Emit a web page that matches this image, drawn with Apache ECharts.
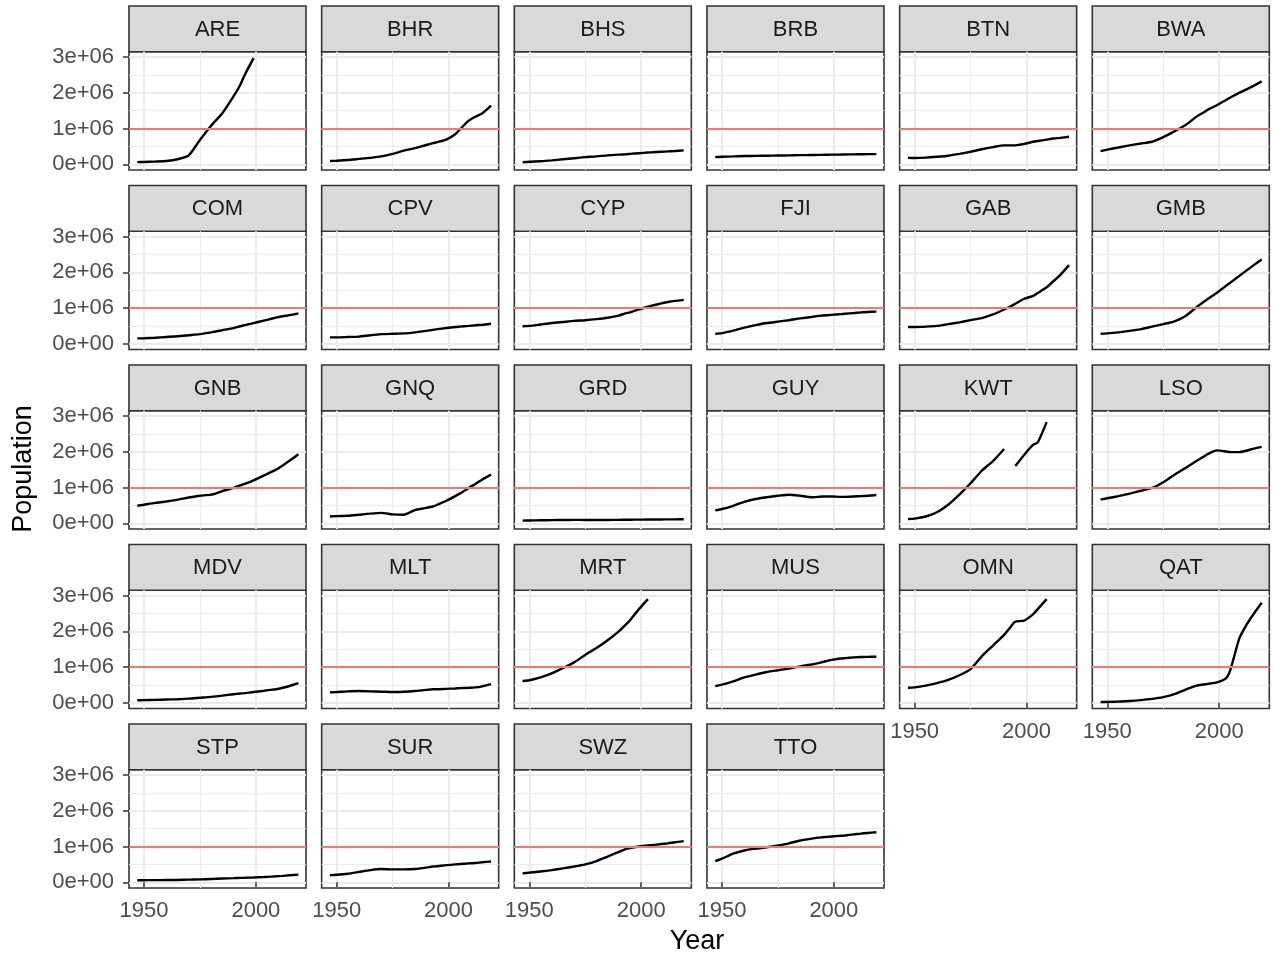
<!DOCTYPE html>
<html>
<head>
<meta charset="utf-8">
<title>Population by country</title>
<script src="https://cdn.jsdelivr.net/npm/echarts@6/dist/echarts.min.js"></script>
<style>
  html, body { margin: 0; padding: 0; background: #fff; }
  #chart { width: 1273px; height: 959px; }
</style>
</head>
<body>
<div id="chart"></div>
<script>
// population in millions
const years = [1947, 1950, 1955, 1960, 1965, 1970, 1975, 1980, 1985, 1990, 1993, 1995, 1999, 2003, 2005, 2009, 2012, 2015, 2019]

const ARE = [0.06, 0.065, 0.075, 0.09, 0.14, 0.25, 0.68, 1.08, 1.43, 1.9, 2.22, 2.5, 2.97, null, null, null, null, null, null]
const BHR = [0.09, 0.1, 0.12, 0.15, 0.18, 0.22, 0.29, 0.38, 0.45, 0.54, 0.59, 0.62, 0.69, 0.84, 0.97, 1.22, 1.33, 1.42, 1.64]
const BHS = [0.055, 0.07, 0.085, 0.11, 0.14, 0.17, 0.2, 0.22, 0.25, 0.27, 0.28, 0.29, 0.31, 0.33, 0.335, 0.35, 0.36, 0.37, 0.39]
const BRB = [0.2, 0.21, 0.22, 0.23, 0.235, 0.24, 0.245, 0.25, 0.255, 0.26, 0.263, 0.265, 0.27, 0.273, 0.275, 0.278, 0.28, 0.283, 0.285]
const BTN = [0.18, 0.175, 0.185, 0.21, 0.24, 0.29, 0.35, 0.42, 0.48, 0.53, 0.53, 0.53, 0.57, 0.63, 0.65, 0.69, 0.72, 0.74, 0.77]
const BWA = [0.37, 0.41, 0.47, 0.53, 0.58, 0.63, 0.76, 0.92, 1.1, 1.34, 1.45, 1.53, 1.65, 1.8, 1.87, 2.0, 2.09, 2.18, 2.32]
const COM = [0.15, 0.155, 0.17, 0.19, 0.21, 0.24, 0.27, 0.32, 0.38, 0.44, 0.49, 0.52, 0.58, 0.64, 0.67, 0.73, 0.77, 0.8, 0.85]
const CPV = [0.18, 0.18, 0.19, 0.2, 0.24, 0.27, 0.28, 0.29, 0.32, 0.36, 0.39, 0.41, 0.44, 0.47, 0.48, 0.5, 0.52, 0.53, 0.56]
const CYP = [0.49, 0.5, 0.54, 0.58, 0.61, 0.64, 0.66, 0.69, 0.73, 0.79, 0.85, 0.88, 0.96, 1.04, 1.07, 1.13, 1.17, 1.2, 1.23]
const FJI = [0.28, 0.3, 0.37, 0.45, 0.52, 0.58, 0.62, 0.66, 0.71, 0.75, 0.78, 0.79, 0.81, 0.83, 0.84, 0.86, 0.88, 0.89, 0.9]
const GAB = [0.47, 0.47, 0.48, 0.5, 0.55, 0.6, 0.66, 0.72, 0.82, 0.96, 1.05, 1.12, 1.26, 1.34, 1.42, 1.58, 1.75, 1.92, 2.2]
const GMB = [0.28, 0.29, 0.32, 0.36, 0.41, 0.48, 0.55, 0.63, 0.78, 1.03, 1.17, 1.26, 1.43, 1.62, 1.71, 1.9, 2.04, 2.18, 2.36]
const GNB = [0.49, 0.52, 0.57, 0.61, 0.66, 0.72, 0.77, 0.8, 0.9, 0.99, 1.06, 1.1, 1.2, 1.32, 1.38, 1.5, 1.62, 1.75, 1.93]
const GNQ = [0.19, 0.2, 0.21, 0.24, 0.27, 0.29, 0.25, 0.24, 0.37, 0.43, 0.47, 0.52, 0.63, 0.76, 0.83, 0.99, 1.1, 1.22, 1.36]
const GRD = [0.075, 0.077, 0.083, 0.088, 0.092, 0.095, 0.093, 0.09, 0.093, 0.096, 0.099, 0.1, 0.102, 0.104, 0.105, 0.107, 0.109, 0.11, 0.112]
const GUY = [0.36, 0.4, 0.49, 0.6, 0.68, 0.73, 0.77, 0.8, 0.77, 0.73, 0.74, 0.75, 0.75, 0.74, 0.74, 0.75, 0.76, 0.77, 0.79]
const KWT = [0.12, 0.13, 0.19, 0.31, 0.52, 0.8, 1.12, 1.47, 1.74, 2.08, null, 1.6, 1.92, 2.2, 2.26, 2.83, null, null, null]
const LSO = [0.66, 0.7, 0.76, 0.83, 0.91, 0.99, 1.15, 1.36, 1.55, 1.75, 1.86, 1.94, 2.04, 2.01, 1.99, 1.99, 2.03, 2.08, 2.14]
const MDV = [0.07, 0.074, 0.08, 0.09, 0.1, 0.115, 0.14, 0.165, 0.2, 0.24, 0.26, 0.27, 0.3, 0.33, 0.35, 0.38, 0.42, 0.47, 0.55]
const MLT = [0.29, 0.3, 0.32, 0.33, 0.32, 0.31, 0.3, 0.31, 0.33, 0.36, 0.38, 0.38, 0.39, 0.4, 0.41, 0.42, 0.43, 0.46, 0.52]
const MRT = [0.61, 0.63, 0.71, 0.82, 0.97, 1.13, 1.34, 1.53, 1.75, 2.0, 2.18, 2.31, 2.62, 2.9, null, null, null, null, null]
const MUS = [0.47, 0.51, 0.6, 0.71, 0.79, 0.86, 0.91, 0.96, 1.02, 1.07, 1.11, 1.14, 1.2, 1.24, 1.25, 1.27, 1.28, 1.285, 1.29]
const OMN = [0.42, 0.43, 0.48, 0.55, 0.64, 0.77, 0.94, 1.3, 1.6, 1.9, 2.13, 2.27, 2.3, 2.48, 2.62, 2.9, null, null, null]
const QAT = [0.02, 0.025, 0.035, 0.05, 0.075, 0.11, 0.16, 0.24, 0.37, 0.48, 0.51, 0.53, 0.57, 0.68, 0.92, 1.8, 2.16, 2.45, 2.8]
const STP = [0.055, 0.058, 0.06, 0.063, 0.065, 0.073, 0.08, 0.093, 0.105, 0.115, 0.122, 0.126, 0.135, 0.145, 0.152, 0.167, 0.18, 0.195, 0.215]
const SUR = [0.2, 0.21, 0.24, 0.29, 0.34, 0.37, 0.36, 0.36, 0.37, 0.41, 0.44, 0.45, 0.48, 0.5, 0.51, 0.53, 0.54, 0.56, 0.58]
const SWZ = [0.25, 0.27, 0.3, 0.34, 0.39, 0.44, 0.5, 0.59, 0.72, 0.85, 0.93, 0.96, 1.0, 1.03, 1.04, 1.07, 1.09, 1.12, 1.15]
const TTO = [0.59, 0.66, 0.8, 0.89, 0.94, 0.98, 1.03, 1.09, 1.17, 1.22, 1.25, 1.26, 1.28, 1.3, 1.31, 1.34, 1.36, 1.38, 1.4]

const countries = ['ARE', 'BHR', 'BHS', 'BRB', 'BTN', 'BWA', 'COM', 'CPV', 'CYP', 'FJI', 'GAB', 'GMB',
  'GNB', 'GNQ', 'GRD', 'GUY', 'KWT', 'LSO', 'MDV', 'MLT', 'MRT', 'MUS', 'OMN', 'QAT',
  'STP', 'SUR', 'SWZ', 'TTO']
const popByCountry = { ARE, BHR, BHS, BRB, BTN, BWA, COM, CPV, CYP, FJI, GAB, GMB,
  GNB, GNQ, GRD, GUY, KWT, LSO, MDV, MLT, MRT, MUS, OMN, QAT, STP, SUR, SWZ, TTO }

const threshold = 1 // 1e+06
const xTicks = [1950, 2000]
const yTicks = [0, 1, 2, 3]
const yTickLabels = ['0e+00', '1e+06', '2e+06', '3e+06']

// panel layout (px)
const NCOL = 6
const left0 = 129, colStep = 192.66, panelW = 177
const top0 = 51.7, rowStep = 179.5, panelH = 118.3, stripH = 45.7
const FONT = "'Liberation Sans', Arial, Helvetica, sans-serif"

const grids = [], xAxes = [], yAxes = [], series = [], graphics = []

countries.forEach((name, i) => {
  const r = Math.floor(i / NCOL)
  const c = i % NCOL
  const x = left0 + c * colStep
  const y = top0 + r * rowStep
  const bottomOfCol = r === 4 || (r === 3 && c >= 4)
  const firstCol = c === 0

  grids.push({
    left: x, top: y, width: panelW, height: panelH,
    show: true, backgroundColor: '#fff', borderColor: '#333', borderWidth: 1.6
  })

  xAxes.push({
    gridIndex: i, type: 'value', min: 1943.3, max: 2022.4,
    minInterval: 50, maxInterval: 50,
    axisLine: { show: false },
    axisTick: { show: bottomOfCol, length: 6, customValues: xTicks, lineStyle: { color: '#333', width: 1.5 } },
    axisLabel: {
      show: bottomOfCol, customValues: xTicks, margin: 12,
      color: '#4D4D4D', fontSize: 22, fontFamily: FONT,
      formatter: v => String(Math.round(v))
    },
    splitLine: { show: true, lineStyle: { color: '#EBEBEB', width: 2 } },
    minorTick: { show: false, splitNumber: 2 },
    minorSplitLine: { show: true, lineStyle: { color: '#EBEBEB', width: 1 } }
  })

  yAxes.push({
    gridIndex: i, type: 'value', min: -0.16, max: 3.15,
    minInterval: 1, maxInterval: 1,
    axisLine: { show: false },
    axisTick: { show: firstCol, length: 6, customValues: yTicks, lineStyle: { color: '#333', width: 1.5 } },
    axisLabel: {
      show: firstCol, customValues: yTicks, margin: 15,
      color: '#4D4D4D', fontSize: 22, fontFamily: FONT,
      formatter: v => yTickLabels[yTicks.indexOf(Math.round(v))] || ''
    },
    splitLine: { show: true, lineStyle: { color: '#EBEBEB', width: 2 } },
    minorTick: { show: false, splitNumber: 2 },
    minorSplitLine: { show: true, lineStyle: { color: '#EBEBEB', width: 1 } }
  })

  const vals = popByCountry[name]
  series.push({
    name: name, type: 'line',
    xAxisIndex: i, yAxisIndex: i,
    data: years.map((yr, k) => [yr, vals[k]]),
    showSymbol: false, symbol: 'none',
    smooth: 0.2,
    connectNulls: false,
    lineStyle: { color: '#000', width: 2.4 },
    z: 3,
    markLine: {
      silent: true, symbol: 'none', animation: false,
      label: { show: false },
      lineStyle: { color: '#F8766D', width: 2.2, type: 'solid' },
      emphasis: { disabled: true },
      data: [{ yAxis: threshold }]
    }
  })

  // facet strip
  graphics.push({
    type: 'group',
    children: [
      {
        type: 'rect',
        shape: { x: x, y: y - stripH, width: panelW, height: stripH },
        style: { fill: '#D9D9D9', stroke: '#333', lineWidth: 1.6 }
      },
      {
        type: 'text',
        x: x + panelW / 2, y: y - stripH / 2 + 1,
        style: {
          text: name, fill: '#1A1A1A', fontSize: 22, fontFamily: FONT,
          textAlign: 'center', textVerticalAlign: 'middle'
        }
      }
    ]
  })
})

// axis titles
graphics.push({
  type: 'text', x: 24, y: 469, rotation: Math.PI / 2,
  style: { text: 'Population', fill: '#000', fontSize: 27, fontFamily: FONT, textAlign: 'center', textVerticalAlign: 'middle' }
})
graphics.push({
  type: 'text', x: 697, y: 942,
  style: { text: 'Year', fill: '#000', fontSize: 27, fontFamily: FONT, textAlign: 'center', textVerticalAlign: 'middle' }
})

const chart = echarts.init(document.getElementById('chart'), null, { renderer: 'canvas' })
chart.setOption({
  animation: false,
  backgroundColor: '#fff',
  grid: grids,
  xAxis: xAxes,
  yAxis: yAxes,
  series: series,
  graphic: graphics
})
</script>
</body>
</html>
